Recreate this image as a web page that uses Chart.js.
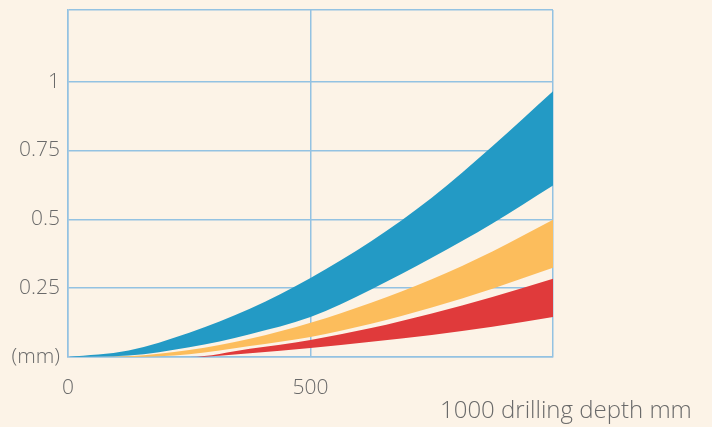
<!DOCTYPE html>
<html>
<head>
<meta charset="utf-8">
<script src="https://cdn.jsdelivr.net/npm/chart.js@4"></script>
<style>
  body { margin: 0; background: #fcf3e7; }
  #wrap { width: 712px; height: 427px; }
</style>
</head>
<body>
<div id="wrap"><canvas id="myChart" width="712" height="427"></canvas></div>
<script>
// drilling depth (mm) and deviation (mm) bands
const depth = [0, 125, 250, 375, 500, 625, 750, 875, 1000];
const blueUpper   = [0, 0.024, 0.088, 0.175, 0.287, 0.42, 0.578, 0.765, 0.965];
const blueLower   = [0, 0.005, 0.035, 0.083, 0.145, 0.245, 0.36, 0.485, 0.623];
const yellowUpper = [0, 0.003, 0.025, 0.066, 0.124, 0.197, 0.282, 0.383, 0.498];
const yellowLower = [0, 0, 0.01, 0.04, 0.073, 0.121, 0.18, 0.248, 0.324];
const redUpper    = [0, 0, 0, 0.03, 0.062, 0.105, 0.158, 0.218, 0.284];
const redLower    = [0, 0, 0, 0.014, 0.033, 0.055, 0.08, 0.11, 0.145];
const yTicks = [0, 0.25, 0.5, 0.75, 1, 1.26];
const xTicks = [0, 500, 1000];
const xTitle = '1000 drilling depth mm';

const FONT = '"Open Sans", "DejaVu Sans", sans-serif';
const GRID = '#93c2e2';

function pts(arr) {
  return arr.map((v, i) => ({ x: depth[i], y: v }));
}

function band(lower, upper, color) {
  const base = { pointRadius: 0, borderWidth: 0, cubicInterpolationMode: 'monotone' };
  return [
    Object.assign({ data: pts(lower), fill: false, borderColor: 'rgba(0,0,0,0)' }, base),
    Object.assign({ data: pts(upper), fill: '-1', backgroundColor: color, borderColor: color }, base)
  ];
}

const titlePlugin = {
  id: 'depthTitle',
  afterDraw(chart) {
    const c = chart.ctx;
    const xs = chart.scales.x;
    c.save();
    c.font = '300 24px ' + FONT;
    c.fillStyle = '#6a6a6a';
    c.textBaseline = 'middle';
    c.textAlign = 'left';
    c.fillText(xTitle, xs.getPixelForValue(1000) - 113, chart.chartArea.bottom + 54);
    c.restore();
  }
};

const ctx = document.getElementById('myChart');
new Chart(ctx, {
  type: 'line',
  data: {
    datasets: [
      ...band(blueLower, blueUpper, '#239ac5'),
      ...band(yellowLower, yellowUpper, '#fcbd5c'),
      ...band(redLower, redUpper, '#e03a3b')
    ]
  },
  options: {
    responsive: false,
    animation: false,
    layout: { padding: { top: 10, right: 159, left: 0, bottom: 0 } },
    plugins: { legend: { display: false }, tooltip: { enabled: false } },
    scales: {
      x: {
        type: 'linear',
        min: 0,
        max: 1000,
        afterBuildTicks: s => { s.ticks = xTicks.map(v => ({ value: v })); },
        afterFit: s => { s.height = 70; s.paddingLeft = 0; s.paddingRight = 0; },
        grid: { color: GRID, lineWidth: 1.5, drawTicks: false },
        border: { color: GRID, width: 1.5 },
        ticks: {
          padding: 18,
          color: '#6a6a6a',
          font: { family: FONT, size: 21, weight: '300' },
          callback: v => (v === 1000 ? '' : String(v))
        }
      },
      y: {
        min: 0,
        max: 1.26,
        afterBuildTicks: s => { s.ticks = yTicks.map(v => ({ value: v })); },
        afterFit: s => { s.width = 68; s.paddingTop = 0; s.paddingBottom = 0; },
        grid: { color: GRID, lineWidth: 1.5, drawTicks: false },
        border: { color: GRID, width: 1.5 },
        ticks: {
          padding: 8,
          color: '#6a6a6a',
          font: { family: FONT, size: 21, weight: '300' },
          callback: v => (v === 0 ? '(mm)' : v === 1.26 ? '' : String(v))
        }
      }
    }
  },
  plugins: [titlePlugin]
});
</script>
</body>
</html>
